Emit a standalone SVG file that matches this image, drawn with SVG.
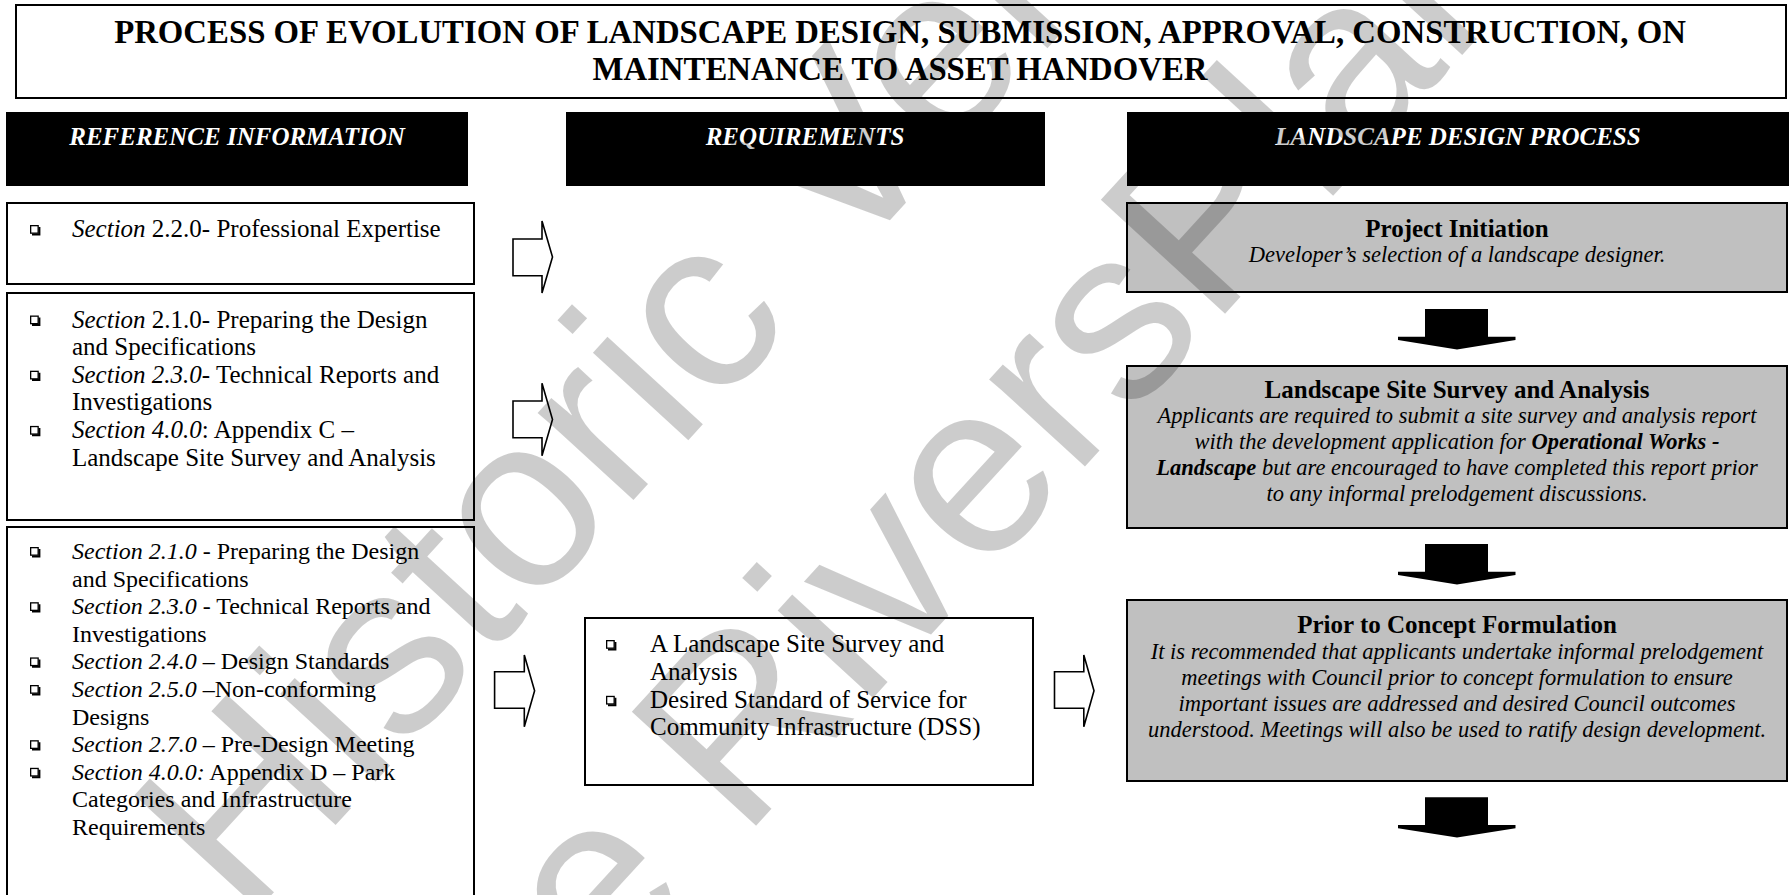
<svg xmlns="http://www.w3.org/2000/svg" width="1789" height="895" viewBox="0 0 1789 895">
<style>
.t{font-family:"Liberation Serif","Times New Roman",serif;fill:#000}
.title{font-size:32.8px;font-weight:bold}
.hdr{font-size:25px;font-weight:bold;font-style:italic;fill:#fff}
.body{font-size:25px}
.body24{font-size:24px}
.it{font-style:italic}
.b{font-weight:bold}
.ttl{font-size:25px;font-weight:bold}
.desc{font-size:22.5px;font-style:italic}
.box{fill:#fff;stroke:#000;stroke-width:2}
.gbox{fill:#c0c0c0;stroke:#000;stroke-width:2}
.blk{fill:#000}
.oarrow{fill:#fff;stroke:#000;stroke-width:1.6;stroke-linejoin:miter}
.sarrow{fill:#000}
.wm{font-family:"Liberation Sans",Arial,sans-serif;font-size:245px;fill:#000;fill-opacity:0.2}
</style>
<defs>
<g id="bul">
<rect x="0.65" y="0.65" width="7.5" height="7.5" fill="none" stroke="#000" stroke-width="1.3"/>
<path d="M9.4,2 V9.4 H2" fill="none" stroke="#000" stroke-width="2"/>
</g>
</defs>
<rect width="1789" height="895" fill="#fff"/>

<g id="title-box">
<rect class="box" x="16" y="5" width="1770" height="93"/>
<text class="t title" x="900" y="43" text-anchor="middle">PROCESS OF EVOLUTION OF LANDSCAPE DESIGN, SUBMISSION, APPROVAL, CONSTRUCTION, ON</text>
<text class="t title" x="900" y="80" text-anchor="middle">MAINTENANCE TO ASSET HANDOVER</text>
</g>

<g id="hdr-reference">
<rect class="blk" x="6" y="112" width="462" height="74"/>
<text class="t hdr" x="237" y="145" text-anchor="middle">REFERENCE INFORMATION</text>
</g>
<g id="hdr-requirements">
<rect class="blk" x="566" y="112" width="479" height="74"/>
<text class="t hdr" x="805" y="145" text-anchor="middle">REQUIREMENTS</text>
</g>
<g id="hdr-process">
<rect class="blk" x="1127" y="112" width="662" height="74"/>
<text class="t hdr" x="1458" y="145" text-anchor="middle">LANDSCAPE DESIGN PROCESS</text>
</g>

<g id="ref-1">
<rect class="box" x="7" y="203" width="467" height="81"/>
<use href="#bul" x="30" y="225"/>
<text class="t body" x="72" y="237"><tspan class="it">Section</tspan> 2.2.0- Professional Expertise</text>
</g>

<g id="ref-2">
<rect class="box" x="7" y="293" width="467" height="227"/>
<use href="#bul" x="30" y="315.5"/>
<use href="#bul" x="30" y="370.7"/>
<use href="#bul" x="30" y="425.9"/>
<text class="t body" x="72" y="327.5"><tspan class="it">Section</tspan> 2.1.0- Preparing the Design</text>
<text class="t body" x="72" y="355.1">and Specifications</text>
<text class="t body" x="72" y="382.7"><tspan class="it">Section 2.3.0</tspan>- Technical Reports and</text>
<text class="t body" x="72" y="410.3">Investigations</text>
<text class="t body" x="72" y="437.9"><tspan class="it">Section 4.0.0</tspan>: Appendix C –</text>
<text class="t body" x="72" y="465.5">Landscape Site Survey and Analysis</text>
</g>

<g id="ref-3">
<rect class="box" x="7" y="527" width="467" height="380"/>
<use href="#bul" x="30" y="547"/>
<use href="#bul" x="30" y="602.2"/>
<use href="#bul" x="30" y="657.4"/>
<use href="#bul" x="30" y="685"/>
<use href="#bul" x="30" y="740.2"/>
<use href="#bul" x="30" y="767.8"/>
<text class="t body24" x="72" y="559"><tspan class="it">Section 2.1.0</tspan> - Preparing the Design</text>
<text class="t body24" x="72" y="586.6">and Specifications</text>
<text class="t body24" x="72" y="614.2"><tspan class="it">Section 2.3.0</tspan> - Technical Reports and</text>
<text class="t body24" x="72" y="641.8">Investigations</text>
<text class="t body24" x="72" y="669.4"><tspan class="it">Section 2.4.0</tspan> – Design Standards</text>
<text class="t body24" x="72" y="697"><tspan class="it">Section 2.5.0</tspan> –Non-conforming</text>
<text class="t body24" x="72" y="724.6">Designs</text>
<text class="t body24" x="72" y="752.2"><tspan class="it">Section 2.7.0</tspan> – Pre-Design Meeting</text>
<text class="t body24" x="72" y="779.8"><tspan class="it">Section 4.0.0:</tspan> Appendix D – Park</text>
<text class="t body24" x="72" y="807.4">Categories and Infrastructure</text>
<text class="t body24" x="72" y="835">Requirements</text>
</g>

<g id="req-1">
<rect class="box" x="585" y="618" width="448" height="167"/>
<use href="#bul" x="606" y="640"/>
<use href="#bul" x="606" y="695.8"/>
<text class="t body" x="650" y="651.7">A Landscape Site Survey and</text>
<text class="t body" x="650" y="679.6">Analysis</text>
<text class="t body" x="650" y="707.5">Desired Standard of Service for</text>
<text class="t body" x="650" y="735.4">Community Infrastructure (DSS)</text>
</g>

<g id="proc-1">
<rect class="gbox" x="1127" y="203" width="660" height="89"/>
<text class="t ttl" x="1457" y="236.5" text-anchor="middle">Project Initiation</text>
<text class="t desc" x="1457" y="261.5" text-anchor="middle">Developer’s selection of a landscape designer.</text>
</g>

<g id="proc-2">
<rect class="gbox" x="1127" y="366" width="660" height="162"/>
<text class="t ttl" x="1457" y="397.5" text-anchor="middle">Landscape Site Survey and Analysis</text>
<text class="t desc" x="1457" y="423.4" text-anchor="middle">Applicants are required to submit a site survey and analysis report</text>
<text class="t desc" x="1457" y="449.3" text-anchor="middle">with the development application for <tspan class="b">Operational Works -</tspan></text>
<text class="t desc" x="1457" y="475.2" text-anchor="middle"><tspan class="b">Landscape</tspan> but are encouraged to have completed this report prior</text>
<text class="t desc" x="1457" y="501.1" text-anchor="middle">to any informal prelodgement discussions.</text>
</g>

<g id="proc-3">
<rect class="gbox" x="1127" y="600" width="660" height="181"/>
<text class="t ttl" x="1457" y="633.3" text-anchor="middle">Prior to Concept Formulation</text>
<text class="t desc" x="1457" y="659.2" text-anchor="middle">It is recommended that applicants undertake informal prelodgement</text>
<text class="t desc" x="1457" y="685.1" text-anchor="middle">meetings with Council prior to concept formulation to ensure</text>
<text class="t desc" x="1457" y="711" text-anchor="middle">important issues are addressed and desired Council outcomes</text>
<text class="t desc" x="1457" y="736.9" text-anchor="middle">understood. Meetings will also be used to ratify design development.</text>
</g>

<g id="connectors">
<polygon class="oarrow" points="513,239 542,239 542,221 552.5,257 542,293 542,275.7 513,275.7"/>
<polygon class="oarrow" points="513,401 542,401 542,383.3 552.5,419.5 542,455.7 542,437.7 513,437.7"/>
<polygon class="oarrow" points="494.6,671.7 524.3,671.7 524.3,655 534.6,690.7 524.3,726.7 524.3,708.3 494.6,708.3"/>
<polygon class="oarrow" points="1054.5,671.7 1083.8,671.7 1083.8,655 1094,690.7 1083.8,726.7 1083.8,708.3 1054.5,708.3"/>
<polygon class="sarrow" points="1425,309 1488,309 1488,336.7 1515.5,336.7 1515.5,340 1457,349.5 1398,340 1398,336.7 1425,336.7"/>
<polygon class="sarrow" points="1425,544 1488,544 1488,571.7 1515.5,571.7 1515.5,575 1457,584.5 1398,575 1398,571.7 1425,571.7"/>
<polygon class="sarrow" points="1425,797.3 1488,797.3 1488,825 1515.5,825 1515.5,828.3 1457,837.5 1398,828.3 1398,825 1425,825"/>
</g>

<g id="watermark">
<text class="wm" transform="translate(245,924) rotate(-47.5)">Historic Version</text>
<text class="wm" transform="translate(402,1212) rotate(-47.5)">See RiversPlan</text>
</g>
</svg>
